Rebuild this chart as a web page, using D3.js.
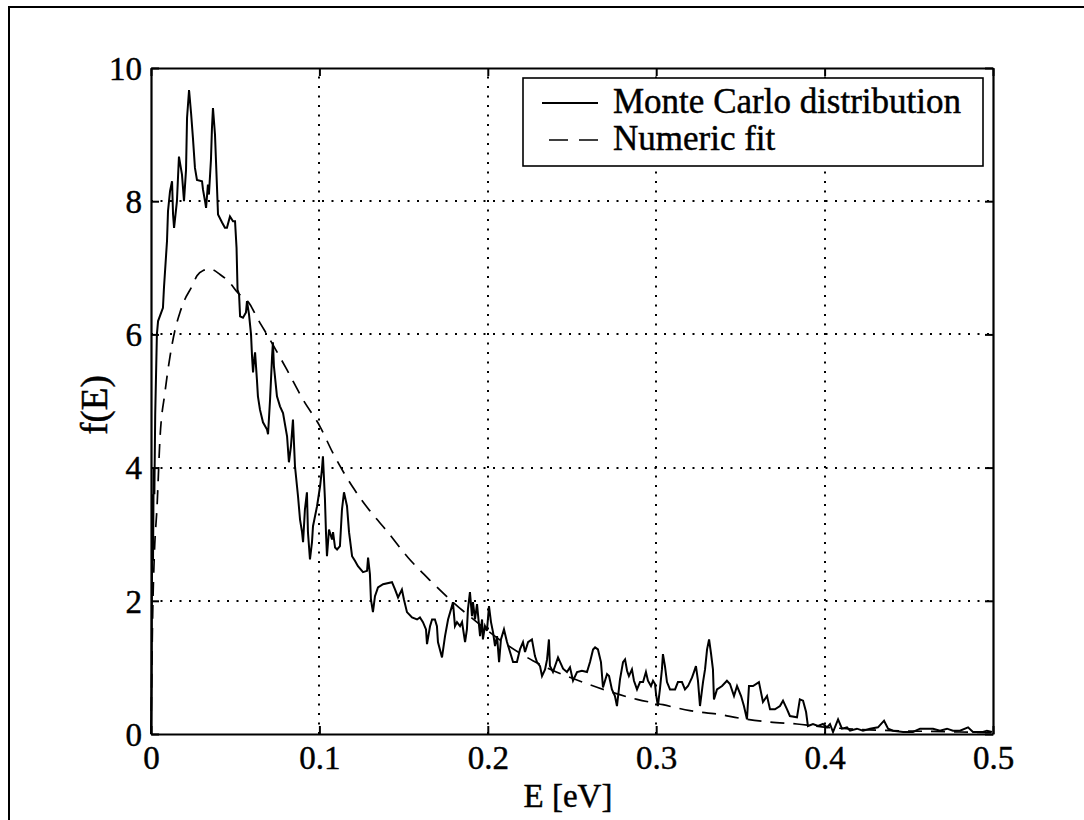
<!DOCTYPE html>
<html>
<head>
<meta charset="utf-8">
<script src="https://cdn.jsdelivr.net/npm/d3@7"></script>
<style>
  html, body { margin: 0; padding: 0; background: #fff; }
  svg { display: block; }
  text { font-family: "Liberation Serif", "DejaVu Serif", serif; fill: #000; stroke: #000; stroke-width: 0.45px; }
</style>
</head>
<body>
<svg id="chart" width="1084" height="820"></svg>
<script>
// ---- Data ----
const xTicks = [0, 0.1, 0.2, 0.3, 0.4, 0.5];
const xTickLabels = ["0", "0.1", "0.2", "0.3", "0.4", "0.5"];
const yTicks = [0, 2, 4, 6, 8, 10];
const yTickLabels = ["0", "2", "4", "6", "8", "10"];
const xLabel = "E [eV]";
const yLabel = "f(E)";
const seriesNames = ["Monte Carlo distribution", "Numeric fit"];

// Monte Carlo distribution: energy (eV)
const mcE = [0, 0.0003, 0.0008, 0.0012, 0.0016, 0.002, 0.0025, 0.003, 0.0035, 0.0042, 0.0071, 0.0077, 0.0095, 0.0101, 0.0113, 0.0125, 0.0131, 0.0137, 0.0154, 0.0166, 0.0184, 0.0190, 0.0196, 0.0208, 0.0214, 0.0226, 0.0238, 0.0249, 0.0261, 0.0273, 0.0303, 0.0309, 0.0321, 0.0327, 0.0338, 0.0344, 0.0356, 0.0362, 0.0368, 0.0380, 0.0392, 0.0398, 0.0422, 0.0439, 0.0451, 0.0469, 0.0487, 0.0499, 0.0508, 0.0514, 0.0523, 0.0529, 0.0546, 0.0564, 0.0570, 0.0582, 0.0594, 0.0600, 0.0606, 0.0612, 0.0618, 0.0629, 0.0635, 0.0647, 0.0665, 0.0689, 0.0695, 0.0707, 0.0719, 0.0724, 0.0730, 0.0748, 0.0766, 0.0784, 0.0808, 0.0819, 0.0831, 0.0837, 0.0843, 0.0855, 0.0867, 0.0873, 0.0885, 0.0897, 0.0903, 0.0914, 0.0926, 0.0932, 0.0944, 0.0956, 0.0962, 0.0986, 0.1004, 0.1015, 0.1021, 0.1033, 0.1039, 0.1045, 0.1057, 0.1075, 0.1081, 0.1093, 0.1105, 0.1122, 0.1134, 0.1146, 0.1164, 0.1176, 0.1194, 0.1211, 0.1229, 0.1259, 0.1283, 0.1289, 0.1300, 0.1306, 0.1318, 0.1330, 0.1348, 0.1378, 0.1431, 0.1449, 0.1467, 0.1490, 0.1502, 0.1520, 0.1550, 0.1580, 0.1597, 0.1615, 0.1633, 0.1639, 0.1657, 0.1669, 0.1686, 0.1698, 0.1704, 0.1728, 0.1746, 0.1764, 0.1787, 0.1793, 0.1805, 0.1817, 0.1835, 0.1847, 0.1865, 0.1876, 0.1882, 0.1894, 0.1906, 0.1912, 0.1924, 0.1936, 0.1954, 0.1966, 0.1971, 0.1983, 0.1995, 0.2007, 0.2019, 0.2031, 0.2043, 0.2055, 0.2067, 0.2078, 0.2096, 0.2114, 0.2132, 0.2150, 0.2173, 0.2191, 0.2209, 0.2221, 0.2239, 0.2262, 0.2280, 0.2292, 0.2310, 0.2322, 0.2340, 0.2352, 0.2363, 0.2369, 0.2387, 0.2417, 0.2447, 0.2470, 0.2488, 0.2506, 0.2530, 0.2559, 0.2589, 0.2607, 0.2625, 0.2637, 0.2654, 0.2672, 0.2684, 0.2708, 0.2720, 0.2737, 0.2755, 0.2767, 0.2785, 0.2803, 0.2815, 0.2827, 0.2838, 0.2856, 0.2868, 0.2886, 0.2904, 0.2922, 0.2939, 0.2951, 0.2969, 0.2981, 0.2993, 0.2999, 0.3010, 0.3022, 0.3034, 0.3040, 0.3052, 0.3064, 0.3082, 0.3112, 0.3129, 0.3153, 0.3171, 0.3189, 0.3213, 0.3224, 0.3236, 0.3248, 0.3260, 0.3278, 0.3290, 0.3302, 0.3314, 0.3325, 0.3337, 0.3343, 0.3361, 0.3391, 0.3420, 0.3438, 0.3462, 0.3480, 0.3504, 0.3521, 0.3539, 0.3551, 0.3575, 0.3610, 0.3634, 0.3658, 0.3676, 0.3705, 0.3735, 0.3753, 0.3777, 0.3794, 0.3836, 0.3853, 0.3872, 0.3890, 0.3901, 0.3931, 0.3961, 0.3990, 0.4014, 0.4032, 0.4050, 0.4080, 0.4103, 0.4133, 0.4151, 0.4192, 0.4228, 0.4270, 0.4317, 0.4353, 0.4377, 0.4406, 0.4466, 0.4525, 0.4567, 0.4644, 0.4685, 0.4727, 0.4762, 0.4804, 0.4852, 0.4881, 0.4941, 0.4964, 0.4994];
// Monte Carlo distribution: f(E)
const mcF = [0, 0.75, 3.6, 2.6, 4.0, 3.6, 4.8, 5.4, 6.0, 6.2, 6.4, 6.7, 7.4, 7.85, 8.15, 8.3, 7.8, 7.6, 8.0, 8.67, 8.4, 8.2, 8.0, 8.47, 9.25, 9.67, 9.32, 8.95, 8.5, 8.32, 8.3, 8.17, 8.0, 7.9, 8.25, 8.1, 8.62, 9.1, 9.4, 9.0, 8.2, 7.8, 7.68, 7.6, 7.6, 7.77, 7.7, 7.7, 7.3, 6.67, 6.6, 6.27, 6.25, 6.33, 6.5, 6.3, 6.0, 5.67, 5.43, 5.62, 5.73, 5.32, 5.07, 4.87, 4.68, 4.57, 4.5, 5.02, 5.67, 5.88, 5.52, 5.07, 4.92, 4.82, 4.47, 4.08, 4.32, 4.52, 4.72, 4.02, 3.72, 3.57, 3.22, 3.03, 2.88, 3.37, 3.63, 3.03, 2.62, 2.88, 3.12, 3.42, 3.72, 3.97, 4.17, 3.52, 3.03, 2.67, 3.07, 2.92, 3.03, 2.8, 2.77, 2.82, 3.37, 3.63, 3.42, 3.03, 2.67, 2.6, 2.52, 2.43, 2.45, 2.65, 2.4, 2.02, 1.83, 2.07, 2.2, 2.25, 2.28, 2.17, 2.05, 2.17, 2.02, 1.83, 1.75, 1.72, 1.75, 1.68, 1.57, 1.35, 1.62, 1.72, 1.72, 1.62, 1.38, 1.15, 1.47, 1.72, 1.92, 1.98, 1.62, 1.68, 1.62, 1.68, 1.38, 1.57, 1.87, 2.13, 1.77, 1.98, 1.72, 1.95, 1.47, 1.72, 1.42, 1.62, 1.55, 1.92, 1.68, 1.53, 1.32, 1.47, 1.08, 1.42, 1.57, 1.38, 1.23, 1.08, 1.08, 1.27, 1.38, 1.23, 1.38, 1.42, 1.17, 1.08, 1.02, 0.87, 0.97, 1.12, 1.42, 1.02, 0.93, 1.15, 0.98, 0.93, 1.0, 0.8, 0.93, 0.95, 0.93, 1.08, 1.27, 1.3, 1.27, 1.08, 0.7, 0.9, 0.87, 0.67, 0.57, 0.42, 0.82, 1.08, 1.12, 0.95, 0.87, 0.97, 0.8, 0.67, 0.78, 0.78, 0.93, 0.8, 0.72, 0.8, 0.75, 0.6, 0.42, 0.67, 0.97, 1.2, 1.02, 0.78, 0.67, 0.67, 0.78, 0.78, 0.67, 0.72, 0.85, 0.93, 1.02, 0.8, 0.42, 0.78, 0.97, 1.27, 1.42, 1.22, 0.97, 0.52, 0.67, 0.72, 0.8, 0.75, 0.57, 0.72, 0.57, 0.42, 0.22, 0.72, 0.72, 0.78, 0.48, 0.57, 0.37, 0.37, 0.42, 0.5, 0.37, 0.27, 0.25, 0.52, 0.5, 0.33, 0.12, 0.15, 0.12, 0.15, 0.1, 0.15, 0.03, 0.22, 0.08, 0.1, 0.05, 0.08, 0.05, 0.08, 0.1, 0.2, 0.08, 0.05, 0.03, 0.03, 0.08, 0.08, 0.05, 0.08, 0.05, 0.05, 0.1, 0.03, 0.03, 0.05, 0.03];

// Numeric fit
const fitE = [0, 0.001, 0.002, 0.0036, 0.0053, 0.0083, 0.0113, 0.0143, 0.0172, 0.020, 0.0243, 0.0273, 0.031, 0.035, 0.041, 0.047, 0.051, 0.0588, 0.063, 0.0707, 0.0807, 0.0903, 0.1003, 0.108, 0.12, 0.13, 0.14, 0.1526, 0.1668, 0.1793, 0.1935, 0.209, 0.2268, 0.2595, 0.2886, 0.304, 0.32, 0.336, 0.3515, 0.3676, 0.3836, 0.4013, 0.42, 0.44, 0.46, 0.48, 0.5];
const fitF = [0, 1.8, 2.7, 3.42, 4.42, 5.13, 5.67, 6.07, 6.33, 6.52, 6.72, 6.88, 6.96, 6.98, 6.9, 6.77, 6.64, 6.45, 6.25, 5.92, 5.47, 5.02, 4.62, 4.22, 3.7, 3.35, 3.05, 2.65, 2.28, 1.98, 1.68, 1.38, 1.1, 0.75, 0.52, 0.44, 0.35, 0.3, 0.23, 0.18, 0.15, 0.1, 0.07, 0.05, 0.04, 0.03, 0.02];

// ---- Layout ----
const svg = d3.select("#chart");
const L = 151, T = 68, R = 993, B = 734;
const x = d3.scaleLinear().domain([0, 0.5]).range([L, R]);
const y = d3.scaleLinear().domain([0, 10]).range([B, T]);

svg.append("rect").attr("width", 1084).attr("height", 820).attr("fill", "#fff");
// outer figure frame
svg.append("rect").attr("x", 9).attr("y", 7).attr("width", 1090).attr("height", 830)
  .attr("fill", "none").attr("stroke", "#000").attr("stroke-width", 2);

// grid
const grid = svg.append("g").attr("stroke", "#000").attr("stroke-width", 2).attr("stroke-dasharray", "2,7.5");
grid.selectAll("line.gx").data(xTicks.slice(1, -1)).enter().append("line")
  .attr("x1", d => Math.round(x(d))).attr("x2", d => Math.round(x(d))).attr("y1", B).attr("y2", T);
grid.selectAll("line.gy").data(yTicks.slice(1, -1)).enter().append("line")
  .attr("y1", d => Math.round(y(d))).attr("y2", d => Math.round(y(d))).attr("x1", L).attr("x2", R);

// lines
const fitData = fitE.map((e, i) => [e, fitF[i]]);
const mcData = mcE.map((e, i) => [e, mcF[i]]);
svg.append("path").datum(fitData)
  .attr("d", d3.line().x(d => x(d[0])).y(d => y(d[1])).curve(d3.curveMonotoneX))
  .attr("fill", "none").attr("stroke", "#000").attr("stroke-width", 1.7).attr("stroke-dasharray", "14,9");
svg.append("path").datum(mcData)
  .attr("d", d3.line().x(d => x(d[0])).y(d => y(d[1])))
  .attr("fill", "none").attr("stroke", "#000").attr("stroke-width", 2).attr("stroke-linejoin", "miter");

// axes (box with inward ticks on all sides)
const tickLen = 8;
const axB = svg.append("g").attr("transform", `translate(0,${B})`)
  .call(d3.axisBottom(x).tickValues(xTicks).tickFormat((d, i) => xTickLabels[i]).tickSizeInner(-tickLen).tickSizeOuter(0).tickPadding(12));
const axT = svg.append("g").attr("transform", `translate(0,${T})`)
  .call(d3.axisTop(x).tickValues(xTicks).tickFormat("").tickSizeInner(-tickLen).tickSizeOuter(0));
const axL = svg.append("g").attr("transform", `translate(${L},0)`)
  .call(d3.axisLeft(y).tickValues(yTicks).tickFormat((d, i) => yTickLabels[i]).tickSizeInner(-tickLen).tickSizeOuter(0).tickPadding(9));
const axR = svg.append("g").attr("transform", `translate(${R},0)`)
  .call(d3.axisRight(y).tickValues(yTicks).tickFormat("").tickSizeInner(-tickLen).tickSizeOuter(0));
[axB, axT, axL, axR].forEach(a => {
  a.selectAll("path.domain").attr("stroke", "#000").attr("stroke-width", 2.2);
  a.selectAll(".tick line").attr("stroke", "#000").attr("stroke-width", 2);
  a.selectAll("text").style("font-family", '"Liberation Serif", serif').style("font-size", "33px")
    .attr("fill", "#000").attr("stroke", "#000").attr("stroke-width", 0.45);
});
axB.selectAll(".tick text").attr("dy", "0.71em");
axL.selectAll(".tick text").attr("dy", "0.34em");

// axis labels
svg.append("text").attr("x", (L + R) / 2 - 4).attr("y", 807).attr("text-anchor", "middle")
  .style("font-size", "33px").text(xLabel);
svg.append("text").attr("transform", `translate(107,${(T + B) / 2 + 4}) rotate(-90)`).attr("text-anchor", "middle")
  .style("font-size", "37px").text(yLabel);

// legend
const lg = svg.append("g");
lg.append("rect").attr("x", 523).attr("y", 78).attr("width", 460).attr("height", 88)
  .attr("fill", "#fff").attr("stroke", "#000").attr("stroke-width", 1.6);
lg.append("line").attr("x1", 542).attr("x2", 598).attr("y1", 103).attr("y2", 103)
  .attr("stroke", "#000").attr("stroke-width", 2);
lg.append("line").attr("x1", 549).attr("x2", 598).attr("y1", 140).attr("y2", 140)
  .attr("stroke", "#000").attr("stroke-width", 1.7).attr("stroke-dasharray", "19,11");
lg.append("text").attr("x", 613).attr("y", 113).style("font-size", "35px").text(seriesNames[0]);
lg.append("text").attr("x", 613).attr("y", 150).style("font-size", "35px").text(seriesNames[1]);
</script>
</body>
</html>
